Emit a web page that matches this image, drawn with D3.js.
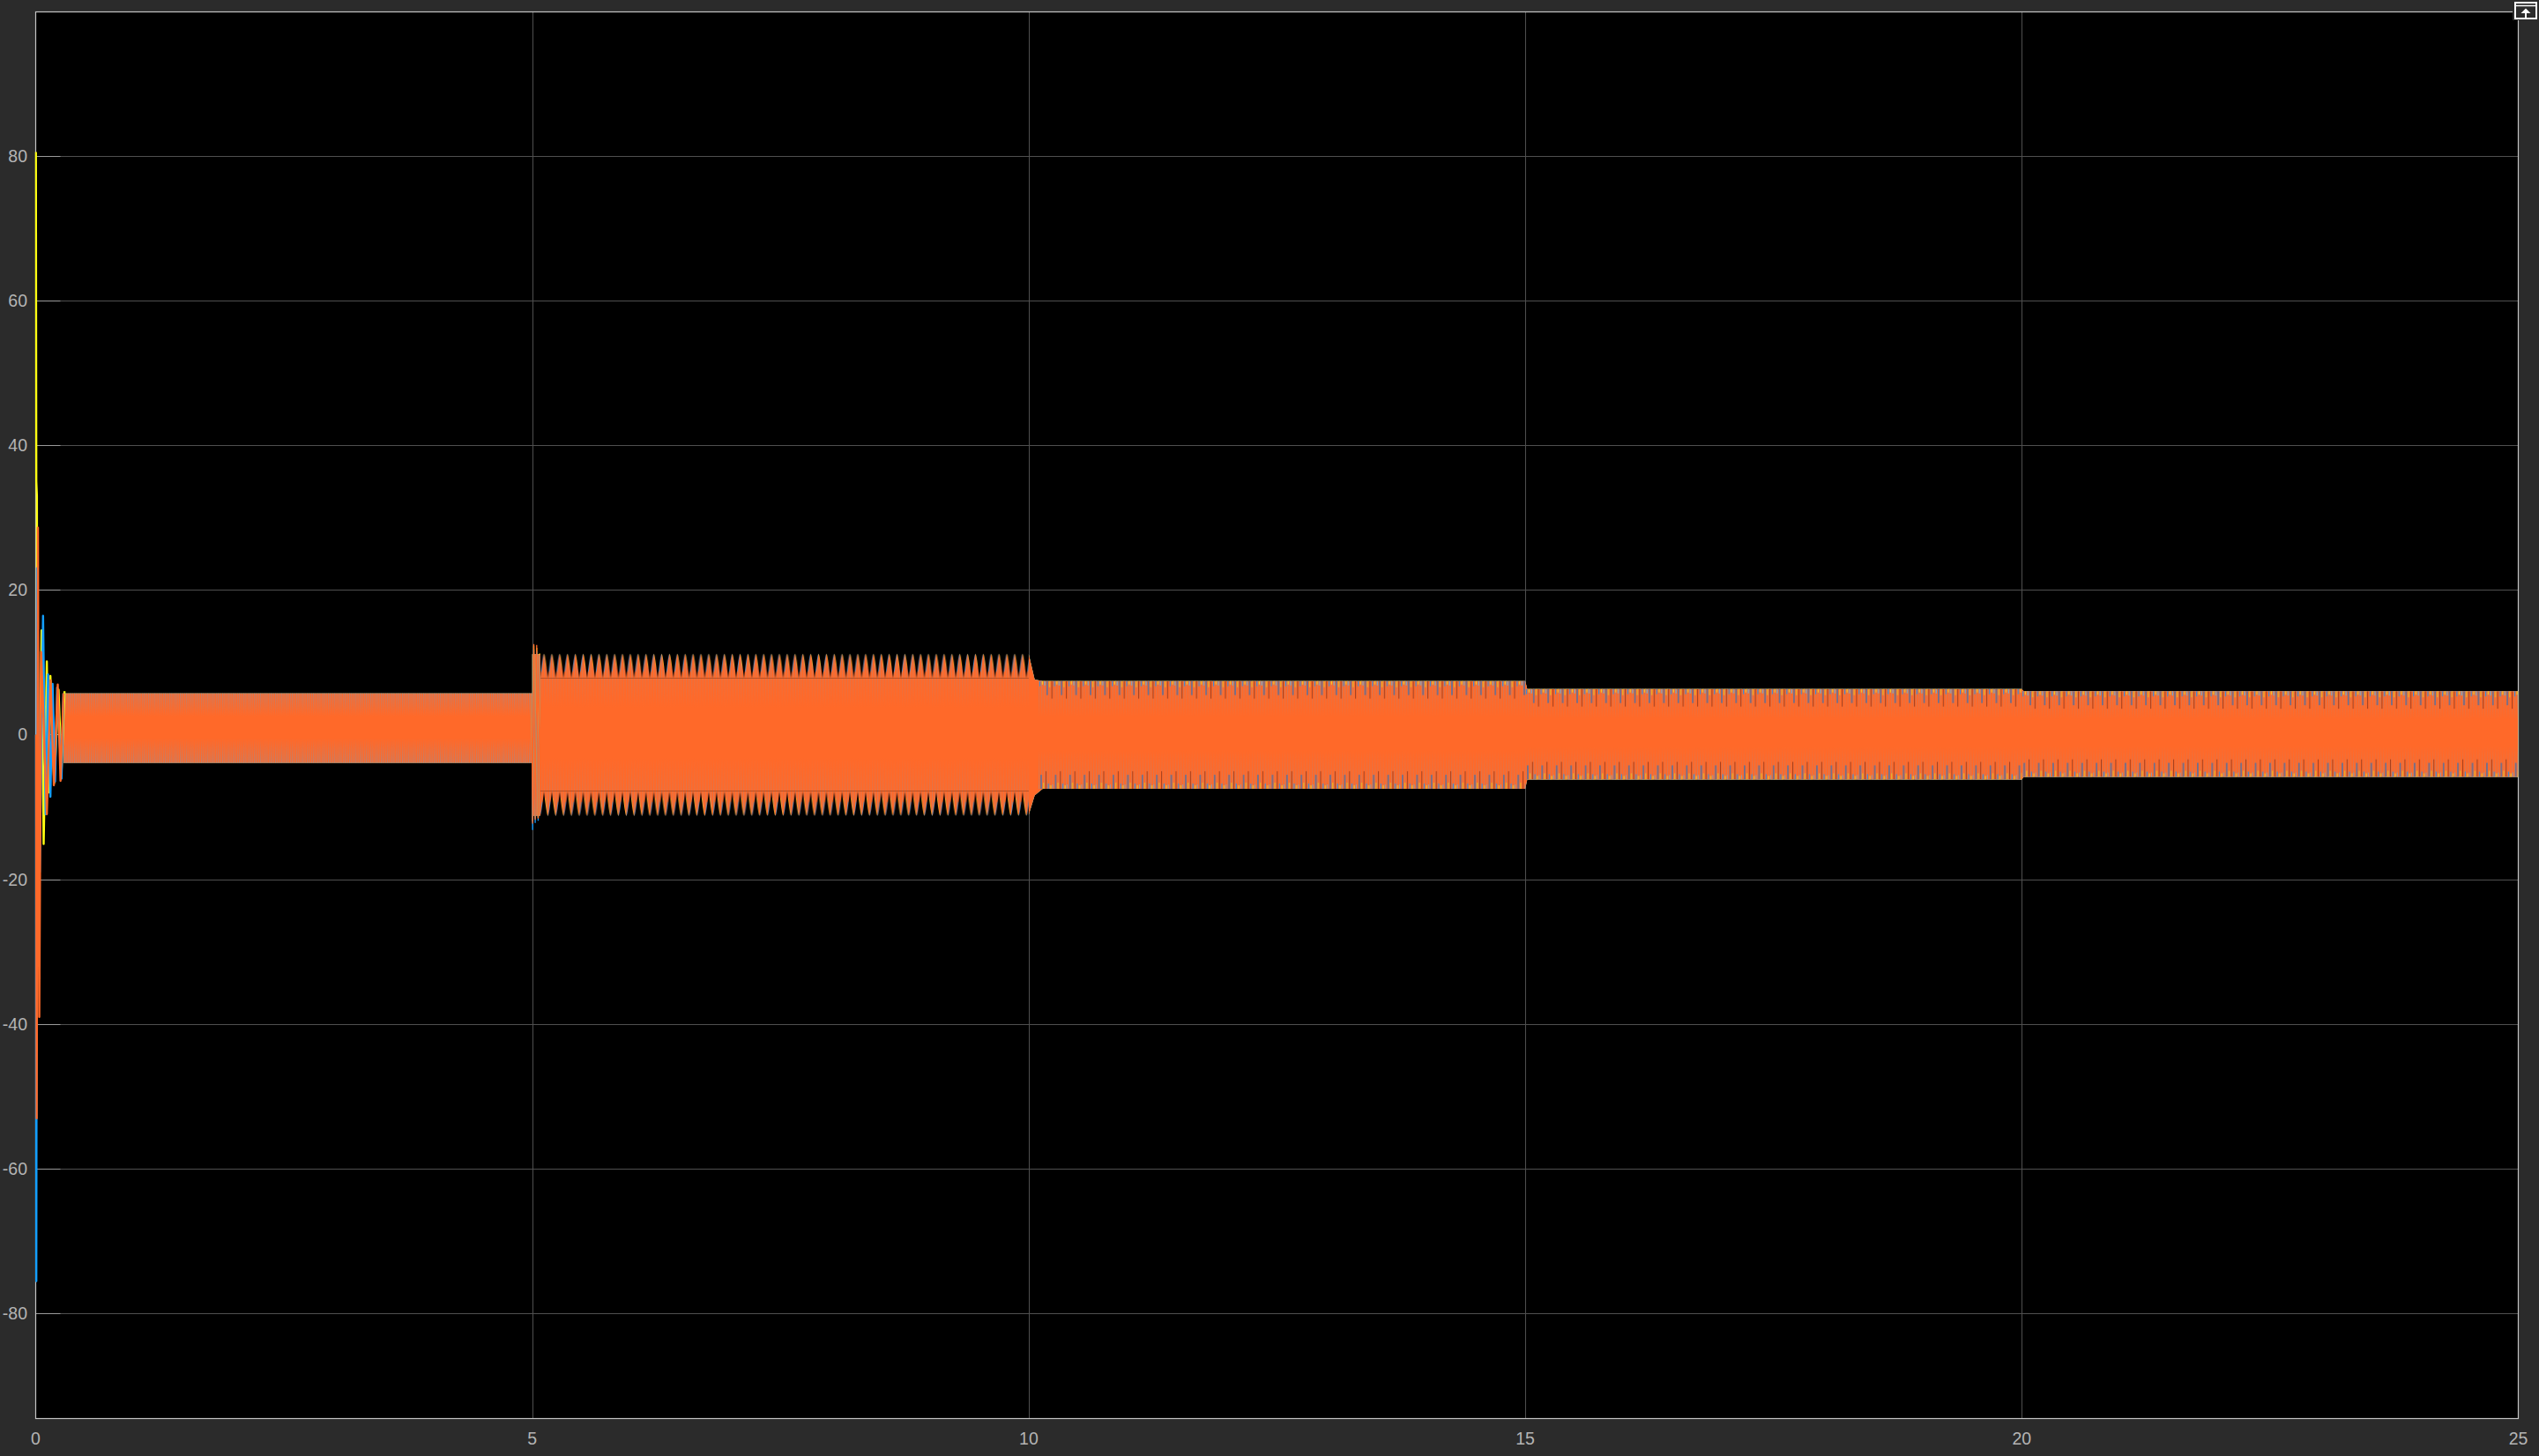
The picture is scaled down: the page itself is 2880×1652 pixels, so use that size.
<!DOCTYPE html>
<html><head><meta charset="utf-8">
<script src="https://cdn.jsdelivr.net/npm/d3@7"></script>
<style>
html,body{margin:0;padding:0;background:#2b2b2b;overflow:hidden}
svg{display:block}
text{font-family:"Liberation Sans",Arial,Helvetica,sans-serif}
</style></head><body>
<svg id="chart" width="2880" height="1652"></svg>
<script>
// ================= DATA =================
const xTicks = [0, 5, 10, 15, 20, 25];
const yTicks = [-80, -60, -40, -20, 0, 20, 40, 60, 80];
const xDomain = [0, 25];
const yDomain = [-94.5, 99.85];

const seriesNames  = ["Phase A", "Phase B", "Phase C"];
const seriesColors = ["#ffff11", "#139fff", "#ff6929"];   // yellow, blue, orange (drawing order)

// start-up transient: successive extremes (time s, value)
const transYellowT = [0.002, 0.006, 0.012, 0.020, 0.059, 0.080, 0.112, 0.130, 0.148, 0.186, 0.230, 0.260, 0.290];
const transYellowV = [80.5, 35, 33, -29, 14.4, -15.1, 10.1, -8, 8.1, -6.7, 6.2, -5, 6.0];
const transBlueT   = [0.002, 0.006, 0.014, 0.040, 0.074, 0.100, 0.124, 0.148, 0.170, 0.195, 0.216, 0.260, 0.280];
const transBlueV   = [0, -75.5, 23, -19, 16.4, -11, 8.3, -8.6, 7, -6.5, 6.5, -6.1, 5.7];
const transOrangeT = [0.004, 0.010, 0.022, 0.036, 0.055, 0.112, 0.150, 0.183, 0.222, 0.250, 0.280];
const transOrangeV = [0, -53, 28.6, -39, 11.4, -11, 7.5, -7, 6.9, -6.4, 5.7];

// step at t = 5 s: successive extremes
const onsetT       = [4.995, 5.004, 5.016, 5.030, 5.045, 5.060, 5.075];
const onsetYellowV = [5.5, -12.0, 12.3, -11.6, 12.0, -11.5, 11.2];
const onsetBlueV   = [5.5, -13.2, 11.8, -12.2, 11.5, -11.9, 11.0];
const onsetOrangeV = [5.5, -12.3, 12.5, -11.8, 12.4, -11.6, 11.1];

// envelope of the steady oscillation (all three phases)
const envT     = [0.28, 5.0, 5.0, 5.08, 10.0, 10.06, 10.14, 15.0, 15.02, 20.0, 20.02, 25.0];
const envUpper = [5.7, 5.7, 11.1, 11.1, 11.1, 7.6, 7.4, 7.4, 6.3, 6.3, 6.0, 6.0];
const envLower = [-3.9, -3.9, -11.2, -11.2, -11.1, -8.4, -7.5, -7.5, -6.2, -6.2, -5.85, -5.85];

// plateaus (for the texture of the dense waveform)
const segStart = [0.28, 5, 10.1, 15, 20];
const segEnd   = [5, 10, 15, 20, 25];
const segUpper = [5.7, 11.1, 7.4, 6.3, 6.0];
const segLower = [-3.9, -11.2, -7.5, -6.2, -5.85];

// beat seen between 5 s and 10 s
const beatPeriod = 0.079;   // s
const beatValley = 7.8;     // envelope valley between beats

// ================= DRAWING =================
const W = 2880, H = 1652;
const svg = d3.select("#chart");
const x = d3.scaleLinear().domain(xDomain).range([40.5, 2856.5]);
const y = d3.scaleLinear().domain(yDomain).range([1609.5, 13.5]);
const X0 = x.range()[0], X1 = x.range()[1], Y0 = y.range()[1], Y1 = y.range()[0];

svg.append("rect").attr("width", W).attr("height", H).attr("fill", "#2b2b2b");
svg.append("rect").attr("x", X0).attr("y", Y0).attr("width", X1 - X0).attr("height", Y1 - Y0).attr("fill", "#000");

const defs = svg.append("defs");
defs.append("clipPath").attr("id", "plotClip").append("rect")
  .attr("x", X0 - 1).attr("y", Y0).attr("width", X1 - X0 + 1).attr("height", Y1 - Y0);

// grid
const grid = svg.append("g");
grid.selectAll("line.h").data(yTicks).join("line")
  .attr("x1", X0).attr("x2", X1).attr("y1", d => Math.round(y(d)) + 0.5).attr("y2", d => Math.round(y(d)) + 0.5)
  .attr("stroke", "#4f4f4f").attr("stroke-width", 1);
grid.selectAll("line.v").data(xTicks.slice(1, -1)).join("line")
  .attr("y1", Y0).attr("y2", Y1).attr("x1", d => Math.round(x(d)) + 0.5).attr("x2", d => Math.round(x(d)) + 0.5)
  .attr("stroke", "#4f4f4f").attr("stroke-width", 1);
// inner tick marks
grid.selectAll("line.ty").data(yTicks).join("line")
  .attr("x1", X0).attr("x2", X0 + 28).attr("y1", d => Math.round(y(d)) + 0.5).attr("y2", d => Math.round(y(d)) + 0.5)
  .attr("stroke", "#9a9a9a").attr("stroke-width", 1);

// axes box
svg.append("rect").attr("x", X0).attr("y", Y0).attr("width", X1 - X0).attr("height", Y1 - Y0)
  .attr("fill", "none").attr("stroke", "#c4c4c4").attr("stroke-width", 1.2);

const plot = svg.append("g").attr("clip-path", "url(#plotClip)");
const line = d3.line().x(d => x(d[0])).y(d => y(d[1]));
const zipTV = (T, V) => T.map((t, i) => [t, V[i]]);

const transients = [zipTV(transYellowT, transYellowV), zipTV(transBlueT, transBlueV), zipTV(transOrangeT, transOrangeV)];
const onsets = [zipTV(onsetT, onsetYellowV), zipTV(onsetT, onsetBlueV), zipTV(onsetT, onsetOrangeV)];
const envelope = envT.map((t, i) => ({ t, u: envUpper[i], l: envLower[i] }));
const area = d3.area().x(d => x(d.t)).y0(d => y(d.l)).y1(d => y(d.u));

// steady oscillation bands (one per phase, orange on top)
seriesColors.forEach((c, i) => {
  plot.append("path").datum(envelope).attr("d", area).attr("fill", c);
});

// ---- texture of the dense waveform ----
const stripeGrad = defs.append("linearGradient").attr("id", "stripeGrad").attr("x1", 0).attr("y1", 0).attr("x2", 0).attr("y2", 1);
[[0, 0.95], [0.33, 0], [0.64, 0], [1, 0.95]].forEach(([o, a]) =>
  stripeGrad.append("stop").attr("offset", o).attr("stop-color", "#b0857c").attr("stop-opacity", a));

const speckColors = ["#2f8fe0", "#f0d020", "#5fb4e6", "#1f6fc0", "#e8c020", "#a8401c"];
const speckLen = [6, 4, 5, 16, 7, 20];

segStart.forEach((s, k) => {
  const yt = y(segUpper[k]), yb = y(segLower[k]);
  const hgt = yb - yt;
  const pid = "stripes" + k;
  const p = defs.append("pattern").attr("id", pid).attr("patternUnits", "userSpaceOnUse")
    .attr("x", 0).attr("y", yt).attr("width", k === 0 ? 2.4 : 3.1).attr("height", hgt);
  p.append("rect").attr("x", 0).attr("y", 0).attr("width", k === 0 ? 1.1 : 1.0).attr("height", hgt).attr("fill", "url(#stripeGrad)");
  plot.append("rect").attr("x", x(s)).attr("y", yt).attr("width", x(segEnd[k]) - x(s)).attr("height", hgt)
    .attr("fill", `url(#${pid})`).attr("opacity", k === 0 ? 1 : 0.8);

  if (k >= 2) {
    const sid = "specks" + k;
    const pw = 16.4;
    const sp = defs.append("pattern").attr("id", sid).attr("patternUnits", "userSpaceOnUse")
      .attr("x", x(s)).attr("y", yt).attr("width", pw).attr("height", hgt);
    speckColors.forEach((c, j) => {
      const xx = 1 + j * 2.7;
      sp.append("rect").attr("x", xx).attr("y", 0).attr("width", 1.1).attr("height", speckLen[j]).attr("fill", c);
      const jj = (j + 3) % speckColors.length;
      sp.append("rect").attr("x", xx + 1.3).attr("y", hgt - speckLen[jj]).attr("width", 1.1).attr("height", speckLen[jj]).attr("fill", speckColors[jj]);
    });
    plot.append("rect").attr("x", x(s)).attr("y", yt).attr("width", x(segEnd[k]) - x(s)).attr("height", hgt)
      .attr("fill", `url(#${sid})`);
  }
});

// beat notches between 5 s and 10 s
(function () {
  const k = 1;
  const w = x(beatPeriod) - x(0);
  const topY = y(segUpper[k] + 0.3), valY = y(beatValley);
  const h = valY - topY;
  const fingerBlack = `M0,0 H${w} V${h} C${w * 0.78},${h * 0.45} ${w * 0.62},2 ${w / 2},2 C${w * 0.38},2 ${w * 0.22},${h * 0.45} 0,${h} Z`;
  const left = `M${w * 0.12},${h * 0.75} C${w * 0.25},${h * 0.4} ${w * 0.38},2.5 ${w / 2},2.5`;
  const right = `M${w / 2},2.5 C${w * 0.62},2.5 ${w * 0.72},${h * 0.35} ${w * 0.82},${h * 0.6}`;
  const pt = defs.append("pattern").attr("id", "beatTop").attr("patternUnits", "userSpaceOnUse")
    .attr("x", x(segStart[k])).attr("y", topY).attr("width", w).attr("height", h);
  pt.append("path").attr("d", left).attr("fill", "none").attr("stroke", "#2f8fe0").attr("stroke-width", 1.2).attr("opacity", 0.85);
  pt.append("path").attr("d", right).attr("fill", "none").attr("stroke", "#f0d020").attr("stroke-width", 0.9).attr("opacity", 0.8);
  pt.append("path").attr("d", fingerBlack).attr("fill", "#000");
  const x0 = x(segStart[k] + 0.08), x1 = x(segEnd[k]);
  plot.append("rect").attr("x", x0).attr("y", topY).attr("width", x1 - x0).attr("height", h).attr("fill", "url(#beatTop)");

  const botY = y(-beatValley), botEnd = y(segLower[k] - 0.3);
  const hb = botEnd - botY;
  const pb = defs.append("pattern").attr("id", "beatBot").attr("patternUnits", "userSpaceOnUse")
    .attr("x", x(segStart[k]) + w * 0.5).attr("y", botY).attr("width", w).attr("height", hb);
  const gB = pb.append("g").attr("transform", `translate(0,${hb}) scale(1,-1)`);
  gB.append("path").attr("d", left).attr("fill", "none").attr("stroke", "#f0d020").attr("stroke-width", 1.0).attr("opacity", 0.8);
  gB.append("path").attr("d", right).attr("fill", "none").attr("stroke", "#2f8fe0").attr("stroke-width", 1.2).attr("opacity", 0.85);
  gB.append("path").attr("d", fingerBlack).attr("fill", "#000");
  plot.append("rect").attr("x", x0).attr("y", botY).attr("width", x1 - x0).attr("height", hb).attr("fill", "url(#beatBot)");
})();

// transient and step lines
seriesColors.forEach((c, i) => {
  plot.append("path").datum(transients[i]).attr("d", line).attr("fill", "none").attr("stroke", c)
    .attr("stroke-width", 2.4).attr("stroke-linejoin", "round");
  plot.append("path").datum(onsets[i]).attr("d", line).attr("fill", "none").attr("stroke", c).attr("stroke-width", 1.3);
});

// tick labels
svg.append("g").selectAll("text").data(yTicks).join("text")
  .attr("x", 31).attr("y", d => y(d)).attr("dy", "0.36em").attr("text-anchor", "end")
  .attr("fill", "#b4b4b4").attr("font-size", 19.5).text(d => d);
svg.append("g").selectAll("text").data(xTicks).join("text")
  .attr("x", d => x(d)).attr("y", 1639).attr("text-anchor", "middle")
  .attr("fill", "#b4b4b4").attr("font-size", 19.5).text(d => d);

// undock icon (top right)
const ic = svg.append("g");
ic.append("rect").attr("x", 2850).attr("y", 0).attr("width", 30).attr("height", 23).attr("fill", "#2b2b2b");
ic.append("rect").attr("x", 2853).attr("y", 3).attr("width", 24).attr("height", 18).attr("fill", "none").attr("stroke", "#fff").attr("stroke-width", 2);
ic.append("line").attr("x1", 2853).attr("x2", 2877).attr("y1", 6.5).attr("y2", 6.5).attr("stroke", "#fff").attr("stroke-width", 1.5);
ic.append("path").attr("d", "M2859.5,15 L2865,9.5 L2870.5,15 Z").attr("fill", "#fff");
ic.append("rect").attr("x", 2864).attr("y", 13).attr("width", 2).attr("height", 8).attr("fill", "#fff");
</script>
</body></html>
